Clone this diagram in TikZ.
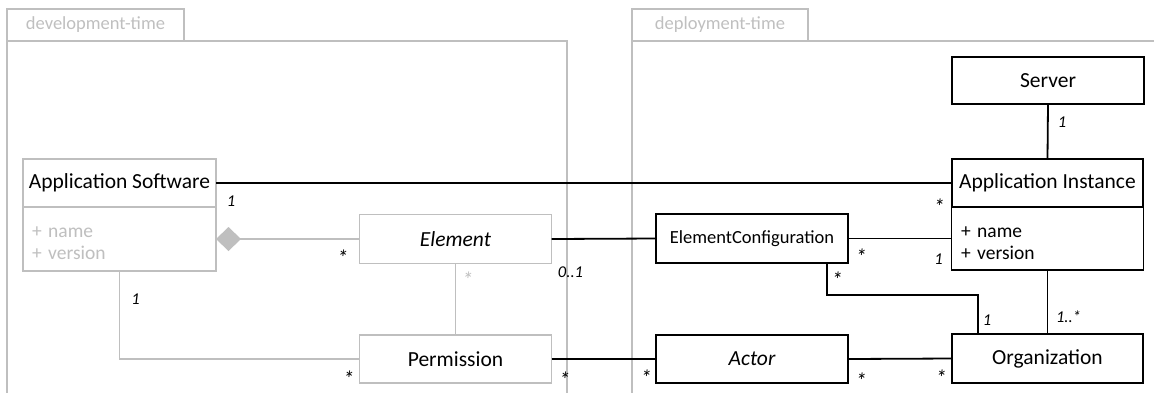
\documentclass[tikz,border=0pt]{standalone}
\usepackage{fontspec}
\setmainfont{Carlito}
\usepackage{tikz}
\usetikzlibrary{arrows.meta}
\definecolor{umlgrey}{HTML}{BFBFBF}
\tikzstyle{classbox}=[draw, line width=1.7pt, fill=white, outer sep=0pt, minimum height=48pt, minimum width=192pt, inner sep=0pt, font=\fontsize{21.5}{25}\selectfont]
\tikzstyle{gclassbox}=[classbox, draw=umlgrey]
\tikzstyle{attrbox}=[classbox, anchor=north, minimum height=63pt, align=left, text width=174pt, inner xsep=9pt, font=\fontsize{19.5}{22}\selectfont]
\tikzstyle{mult}=[inner sep=0pt, font=\fontsize{16.5}{18}\selectfont\itshape]
\tikzstyle{star}=[mult, font=\fontsize{22}{24}\selectfont\itshape]
\tikzstyle{assoc}=[line width=1.8pt]
\tikzstyle{gassoc}=[assoc, umlgrey]
\tikzstyle{framesty}=[draw=umlgrey, line width=1.7pt]
\tikzstyle{tabsty}=[framesty, minimum width=177pt, minimum height=32pt, inner sep=0pt, text=umlgrey, font=\fontsize{18.5}{20}\selectfont]

\begin{document}
\begin{tikzpicture}[x=1pt, y=-1pt]
	\clip (0,0) rectangle (1154,392);

	% packages
	\draw[framesty] (7,41) rectangle (567,400);
	\draw[framesty] (632,41) rectangle (1170,400);
	\node[tabsty] (devtab) at (95.5,25) {development-time};
	\node[tabsty, minimum width=176pt] (deptab) at (720,25) {deployment-time};

	% development-time classes
	\node[gclassbox, minimum width=193pt] (appsw) at (119.5,183) {Application Software};
	\node[attrbox, draw=umlgrey, text=umlgrey, minimum height=64pt, text width=175pt] (appswattr) at (appsw.south) {\rule{0pt}{20pt}+ name\\+ version};
	\node[gclassbox, minimum height=49pt, font=\fontsize{21.5}{25}\selectfont\itshape] (element) at (455.5,239) {Element};
	\node[gclassbox] (perm) at (455.5,359) {Permission};

	% deployment-time classes
	\node[classbox, minimum height=49pt, font=\fontsize{18.5}{21}\selectfont] (elemconf) at (752,238.5) {ElementConfiguration};
	\node[classbox, font=\fontsize{21.5}{25}\selectfont\itshape] (actor) at (752,359) {Actor};
	\node[classbox, minimum height=47pt] (server) at (1048,80.5) {Server};
	\node[classbox, minimum width=191pt] (appinst) at (1047.5,183) {Application Instance};
	\node[attrbox, text width=173pt] (appinstattr) at (appinst.south) {\rule{0pt}{20pt}+ name\\+ version};
	\node[classbox, minimum width=191pt, minimum height=49pt] (org) at (1047.5,358.5) {Organization};

	% grey associations
	\draw[gassoc, {Diamond[length=25pt, width=24pt, fill=umlgrey]}-] (appswattr.east) -- (element.west);
	\draw[gassoc] (element.south) -- (perm.north);
	\draw[gassoc] (appswattr.south) |- (perm.west);

	% black associations
	\draw[assoc] (appsw.east) -- (appinst.west);
	\draw[assoc] (element.east) -- (elemconf.west);
	\draw[assoc] (elemconf.east) -- (appinstattr.west);
	\draw[assoc] (perm.east) -- (actor.west);
	\draw[assoc] (actor.east) -- (org.west);
	\draw[assoc] (server.south) -- (appinst.north);
	\draw[assoc] (appinstattr.south) -- (org.north);
	\draw[assoc] ([xshift=75pt]elemconf.south) -- ++(0,32) -| ([xshift=-69.5pt]org.north);

	% multiplicities
	\node[mult] at ([shift={(15,18)}]appsw.east) {1};
	\node[star] at ([shift={(-13,24)}]appinst.west) {*};
	\node[star] at ([shift={(-17,19)}]element.west) {*};
	\node[mult] at ([shift={(19,33)}]element.east) {0..1};
	\node[star, text=umlgrey] at ([shift={(12,16)}]element.south) {*};
	\node[mult] at ([shift={(16,28)}]appswattr.south) {1};
	\node[star] at ([shift={(-11,20)}]perm.west) {*};
	\node[star] at ([shift={(13,21)}]perm.east) {*};
	\node[star] at ([shift={(-10,19)}]actor.west) {*};
	\node[star] at ([shift={(13,22)}]actor.east) {*};
	\node[star] at ([shift={(-11,19)}]org.west) {*};
	\node[star] at ([shift={(13,18)}]elemconf.east) {*};
	\node[mult] at ([shift={(-13,21)}]appinstattr.west) {1};
	\node[mult] at ([shift={(14,18)}]server.south) {1};
	\node[mult] at ([shift={(21,-17)}]org.north) {1..*};
	\node[star] at ([shift={(85,17)}]elemconf.south) {*};
	\node[mult] at ([shift={(-60.5,-14)}]org.north) {1};
\end{tikzpicture}
\end{document}
